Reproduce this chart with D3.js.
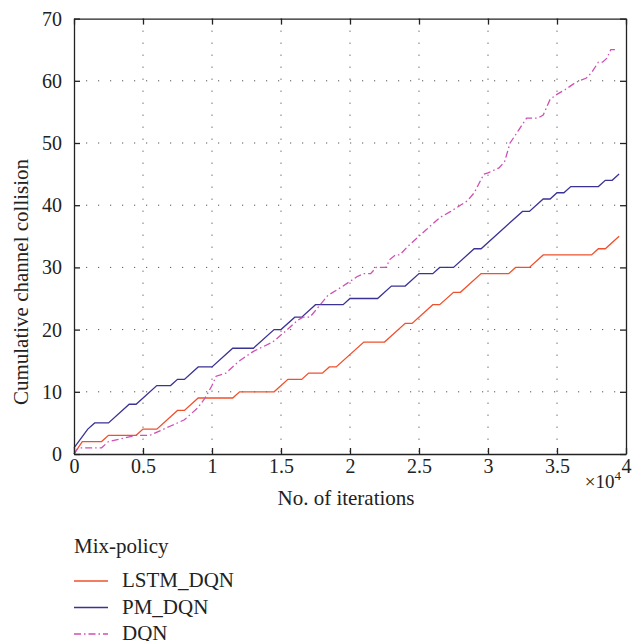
<!DOCTYPE html>
<html>
<head>
<meta charset="utf-8">
<script src="https://cdn.jsdelivr.net/npm/d3@7"></script>
<style>
  body { margin: 0; background: #fff; }
  svg text { font-family: "Times New Roman", Times, "Liberation Serif", "Nimbus Roman", "Noto Serif", "DejaVu Serif", serif; fill: #222; }
</style>
</head>
<body>
<div id="container"></div>
<script>
/* x values are iterations, y values cumulative collisions */
var lstmX = [0, 600, 2000, 2500, 4500, 5000, 6000, 7500, 8000, 9000, 11500, 12000, 14500, 15500, 16500, 17000, 18000, 18500, 19000, 21000, 22500, 24000, 24500, 26000, 26500, 27500, 28000, 29500, 31500, 32000, 33000, 34000, 37500, 38000, 38500, 39500]
var lstmY = [0, 2, 2, 3, 3, 4, 4, 7, 7, 9, 9, 10, 10, 12, 12, 13, 13, 14, 14, 18, 18, 21, 21, 24, 24, 26, 26, 29, 29, 30, 30, 32, 32, 33, 33, 35]

var pmX = [0, 1000, 1500, 2500, 4000, 4500, 6000, 7000, 7500, 8000, 9000, 10000, 11500, 13000, 14500, 15000, 16000, 16500, 17500, 19500, 20000, 22000, 23000, 24000, 25000, 26000, 26500, 27500, 29000, 29500, 32500, 33000, 34000, 34500, 35000, 35500, 36000, 38000, 38500, 39000, 39500]
var pmY = [1, 4, 5, 5, 8, 8, 11, 11, 12, 12, 14, 14, 17, 17, 20, 20, 22, 22, 24, 24, 25, 25, 27, 27, 29, 29, 30, 30, 33, 33, 39, 39, 41, 41, 42, 42, 43, 43, 44, 44, 45]

var dqnX = [0, 300, 2000, 2500, 4500, 5500, 7000, 8000, 9000, 9500, 10000, 10300, 11000, 12000, 13000, 14400, 15200, 16200, 16600, 17100, 18400, 19500, 20500, 21000, 21500, 21900, 22600, 22900, 23300, 23600, 24200, 25500, 26500, 27300, 28000, 28500, 29000, 29700, 30000, 30800, 31200, 31600, 32200, 32800, 33600, 34000, 34500, 34900, 35600, 36200, 36600, 37100, 37500, 38000, 38300, 38600, 38900, 39200]
var dqnY = [0, 1, 1, 2, 3, 3, 4.5, 5.5, 7.5, 9, 11, 12.5, 13, 15, 16.5, 18, 19.5, 21.5, 22, 22, 25.5, 27, 28.5, 29, 29, 30, 30, 31.3, 32, 32, 33.4, 36, 38, 39, 40, 40.7, 42, 45, 45.2, 46, 47, 50, 52, 54, 54, 54.5, 57, 57.7, 58.6, 59.5, 60, 60.4, 61.3, 63, 63, 63.6, 65, 65]

var seriesNames = ['LSTM_DQN', 'PM_DQN', 'DQN']
var colours = ['#f0502c', '#3a3294', '#cf4fb4']
var dashes = [null, null, '7,3,1.5,3']

var xTicks = [0, 5000, 10000, 15000, 20000, 25000, 30000, 35000, 40000]
var yTicks = [0, 10, 20, 30, 40, 50, 60, 70]

var width = 639
var height = 641
var margin = { left: 74, right: 13, top: 18.6, bottom: 187 }

var svg = d3.select('#container').append('svg')
  .attr('width', width)
  .attr('height', height)

var x = d3.scaleLinear()
  .domain([0, 40000])
  .range([margin.left, width - margin.right])

var y = d3.scaleLinear()
  .domain([0, 70])
  .range([height - margin.bottom, margin.top])

var x0 = x.range()[0], x1 = x.range()[1]
var y0 = y.range()[0], y1 = y.range()[1]

/* dotted grid */
var grid = svg.append('g').attr('class', 'grid')
grid.selectAll('line.v')
  .data(xTicks.slice(1, -1))
  .enter().append('line')
  .attr('x1', function (d) { return x(d) }).attr('x2', function (d) { return x(d) })
  .attr('y1', y1).attr('y2', y0)
  .style('stroke', '#555').style('stroke-width', 1).style('stroke-dasharray', '1.2,10.8')
grid.selectAll('line.h')
  .data(yTicks.slice(1, -1))
  .enter().append('line')
  .attr('y1', function (d) { return y(d) }).attr('y2', function (d) { return y(d) })
  .attr('x1', x0).attr('x2', x1)
  .style('stroke', '#555').style('stroke-width', 1).style('stroke-dasharray', '1.2,10.8')

/* lines */
var line = d3.line()
  .x(function (d) { return x(d[0]) })
  .y(function (d) { return y(d[1]) })

var series = [
  d3.zip(lstmX, lstmY),
  d3.zip(pmX, pmY),
  d3.zip(dqnX, dqnY)
]

svg.append('g').attr('class', 'lines')
  .selectAll('path')
  .data(series)
  .enter().append('path')
  .attr('d', line)
  .style('fill', 'none')
  .style('stroke', function (d, i) { return colours[i] })
  .style('stroke-width', 1.3)
  .style('stroke-dasharray', function (d, i) { return dashes[i] })

/* axes: inward ticks on all four sides */
var fmtX = function (d) { return d / 10000 }
svg.append('g')
  .attr('transform', 'translate(0,' + y0 + ')')
  .call(d3.axisBottom(x).tickValues(xTicks).tickFormat(fmtX).tickSizeInner(-6).tickSizeOuter(0).tickPadding(5))
svg.append('g')
  .attr('transform', 'translate(0,' + y1 + ')')
  .call(d3.axisTop(x).tickValues(xTicks).tickFormat('').tickSizeInner(-6).tickSizeOuter(0))
svg.append('g')
  .attr('transform', 'translate(' + x0 + ',0)')
  .call(d3.axisLeft(y).tickValues(yTicks).tickSizeInner(-6).tickSizeOuter(0).tickPadding(12))
svg.append('g')
  .attr('transform', 'translate(' + x1 + ',0)')
  .call(d3.axisRight(y).tickValues(yTicks).tickFormat('').tickSizeInner(-6).tickSizeOuter(0))

svg.selectAll('g').attr('font-family', null).attr('font-size', null)
svg.selectAll('.domain').style('stroke', '#222').style('stroke-width', 1.3)
svg.selectAll('.tick line').style('stroke', '#222').style('stroke-width', 1.3)
svg.selectAll('.tick text').style('font-size', '20px').style('fill', '#222')

/* exponent label */
var expo = svg.append('text')
  .attr('x', x1 - 5)
  .attr('y', y0 + 34)
  .attr('text-anchor', 'end')
  .style('font-size', '19px')
expo.append('tspan').text('×10')
expo.append('tspan').attr('dy', -8).style('font-size', '13px').text('4')

/* axis titles */
svg.append('text')
  .attr('x', 346)
  .attr('y', y0 + 51)
  .attr('text-anchor', 'middle')
  .style('font-size', '21px')
  .text('No. of iterations')

svg.append('text')
  .attr('transform', 'translate(28,282) rotate(-90)')
  .attr('text-anchor', 'middle')
  .style('font-size', '21px')
  .text('Cumulative channel collision')

/* legend */
var legend = svg.append('g').attr('transform', 'translate(74,553)')
legend.append('text')
  .attr('x', 0).attr('y', 0)
  .style('font-size', '21px')
  .text('Mix-policy')

var item = legend.selectAll('g.item')
  .data(seriesNames)
  .enter().append('g')
  .attr('transform', function (d, i) { return 'translate(0,' + (28 + i * 26.5) + ')' })
item.append('line')
  .attr('x1', 0).attr('x2', 34)
  .style('stroke', function (d, i) { return colours[i] })
  .style('stroke-width', 1.3)
  .style('stroke-dasharray', function (d, i) { return dashes[i] })
item.append('text')
  .attr('x', 48).attr('y', 6)
  .style('font-size', '21px')
  .text(function (d) { return d })
</script>
</body>
</html>
